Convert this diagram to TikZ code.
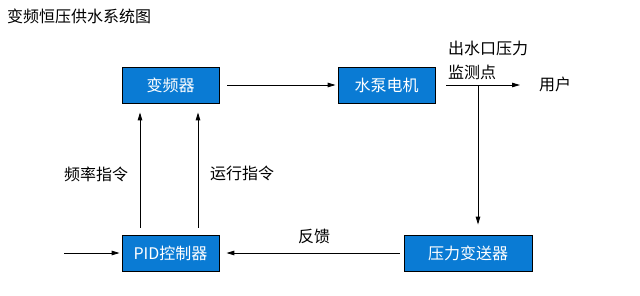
\documentclass[tikz,border=0pt]{standalone}
\usepackage{fontspec}
\setmainfont{Noto Sans CJK SC}
\usetikzlibrary{arrows.meta}
\definecolor{boxblue}{HTML}{0A7BD4}
\begin{document}
\begin{tikzpicture}[x=1pt,y=-1pt,
  blk/.style={draw=black,line width=0.8pt,fill=boxblue,text=white,minimum height=36pt,inner sep=0pt,font=\fontsize{16}{19}\selectfont},
  lbl/.style={inner sep=0pt,font=\fontsize{16}{19}\selectfont},
  arr/.style={line width=0.9pt,-{Triangle[length=8pt,width=4.5pt]}},
  ln/.style={line width=0.9pt}]
\path[use as bounding box,fill=white] (0,0) rectangle (640,295);
\node[lbl,anchor=west] (title) at (7,16) {变频恒压供水系统图};
\node[blk,minimum width=97pt] (inv) at (170.5,85) {变频器};
\node[blk,minimum width=97pt] (pump) at (386.5,85) {水泵电机};
\node[blk,minimum width=97pt] (pid) at (170.5,253) {PID控制器};
\node[blk,minimum width=128pt] (tx) at (468,253) {压力变送器};
\coordinate (user) at (520,85);
\coordinate (j) at (478,85);
\coordinate (in) at (64,253);
\node[lbl,anchor=west] (userl) at (539,84) {用户};
\node[lbl,anchor=west] (mon1) at (448,48) {出水口压力};
\node[lbl,anchor=west] (mon2) at (448,72) {监测点};
\node[lbl,anchor=west] (freq) at (64,174) {频率指令};
\node[lbl,anchor=west] (run) at (210,173) {运行指令};
\node[lbl,anchor=west] (fb) at (298,236) {反馈};
\draw[arr] ([xshift=8pt]inv.east) -- ([xshift=-2pt]pump.west);
\draw[arr] ([xshift=11pt]pump.east) -- (user);
\draw[arr] (j) -- ([yshift=10pt]j |- tx.north);
\draw[arr] ([xshift=-4pt]tx.west) -- ([xshift=7pt]pid.east);
\draw[arr] (in) -- ([xshift=-2pt]pid.west);
\draw[arr] ([xshift=-30.5pt,yshift=7pt]pid.north) -- ([xshift=-30.5pt,yshift=-9pt]inv.south);
\draw[arr] ([xshift=27.5pt,yshift=7pt]pid.north) -- ([xshift=27.5pt,yshift=-9pt]inv.south);
\end{tikzpicture}
\end{document}
